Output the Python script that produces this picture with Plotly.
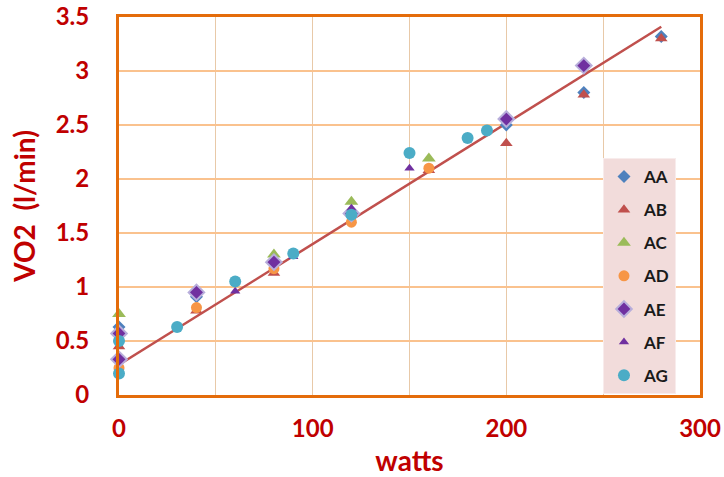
import plotly.graph_objects as go

# Oxygen uptake (VO2, l/min) against cycle-ergometer workload (watts)
aa_x = [0, 40, 80, 120, 200, 240, 280]
aa_y = [0.63, 0.91, 1.22, 1.70, 2.50, 2.80, 3.32]

ab_x = [0, 40, 80, 160, 200, 240, 280]
ab_y = [0.45, 0.78, 1.13, 2.08, 2.33, 2.78, 3.30]

ac_x = [0, 80, 120, 160]
ac_y = [0.75, 1.30, 1.79, 2.19]

ad_x = [0, 40, 80, 120, 160]
ad_y = [0.25, 0.81, 1.17, 1.60, 2.10]

ae_x = [0, 0, 40, 80, 120, 200, 240]
ae_y = [0.57, 0.33, 0.95, 1.23, 1.68, 2.555, 3.05]

af_x = [60, 90, 120, 150]
af_y = [0.96, 1.28, 1.73, 2.10]

ag_x = [0, 0, 30, 60, 90, 120, 150, 180, 190]
ag_y = [0.50, 0.20, 0.63, 1.05, 1.31, 1.67, 2.24, 2.38, 2.45]

# Linear trend across all subjects
trend_x = [0, 280]
trend_y = [0.28, 3.41]

x_ticks = [0, 100, 200, 300]
y_ticks = [0, 0.5, 1, 1.5, 2, 2.5, 3, 3.5]
y_tick_text = ["0", "0.5", "1", "1.5", "2", "2.5", "3", "3.5"]

RED_TEXT = "#C00000"
FRAME = "#E46C0A"
FONT = "Lato"

series = [
    ("AA", aa_x, aa_y, dict(symbol="diamond", color="#4F81BD", size=10)),
    ("AB", ab_x, ab_y, dict(symbol="triangle-up", color="#C0504D", size=11)),
    ("AC", ac_x, ac_y, dict(symbol="triangle-up", color="#9BBB59", size=12)),
    ("AD", ad_x, ad_y, dict(symbol="circle", color="#F79646", size=11)),
    ("AE", ae_x, ae_y, dict(symbol="diamond", color="#7030A0", size=12,
                            line=dict(color="#B8AEDB", width=2))),
    ("AF", af_x, af_y, dict(symbol="triangle-up", color="#7030A0", size=9)),
    ("AG", ag_x, ag_y, dict(symbol="circle", color="#4BACC6", size=12)),
]

fig = go.Figure()

fig.add_trace(go.Scatter(
    x=trend_x, y=trend_y, mode="lines",
    line=dict(color="#C0504D", width=2.5),
    showlegend=False, hoverinfo="skip",
))

for name, xs, ys, marker in series:
    marker.setdefault("line", dict(width=0))
    fig.add_trace(go.Scatter(
        x=xs, y=ys, mode="markers", name=name, marker=marker,
        legendgroup=name, cliponaxis=False,
    ))

fig.update_layout(
    width=724, height=477,
    margin=dict(l=119, r=24, t=17, b=82),
    paper_bgcolor="white",
    plot_bgcolor="white",
    font=dict(family=FONT, color=RED_TEXT),
    legend=dict(
        x=0.833, y=0.627, xanchor="left", yanchor="top",
        bgcolor="#F2DCDB",
        bordercolor="#F8ECEC", borderwidth=1,
        font=dict(family=FONT, size=17, color="#1A1A1A", weight="bold"),
        tracegroupgap=8,
        itemwidth=30,
    ),
)

fig.update_xaxes(
    automargin=False,
    range=[0, 300],
    tickvals=x_ticks,
    ticktext=[str(v) for v in x_ticks],
    tickfont=dict(family=FONT, size=24, color=RED_TEXT, weight="bold"),
    ticklabelstandoff=10,
    showgrid=True, gridcolor="#E8C9A8", gridwidth=1,
    minor=dict(dtick=50, tick0=0, showgrid=True, gridcolor="#E8C9A8", gridwidth=1),
    zeroline=False,
    showline=True, mirror=True, linecolor=FRAME, linewidth=3,
    title=dict(text="watts", standoff=17,
               font=dict(family=FONT, size=28, color=RED_TEXT, weight="bold")),
)

fig.update_yaxes(
    automargin=False,
    range=[0, 3.5],
    tickvals=y_ticks,
    ticktext=y_tick_text,
    tickfont=dict(family=FONT, size=24, color=RED_TEXT, weight="bold"),
    ticklabelstandoff=22,
    showgrid=True, gridcolor="#FAC28E", gridwidth=2,
    zeroline=False,
    showline=True, mirror=True, linecolor=FRAME, linewidth=3,
    title=dict(text="VO2  (l/min)", standoff=12,
               font=dict(family=FONT, size=28, color=RED_TEXT, weight="bold")),
)

fig.write_html("out.html")
